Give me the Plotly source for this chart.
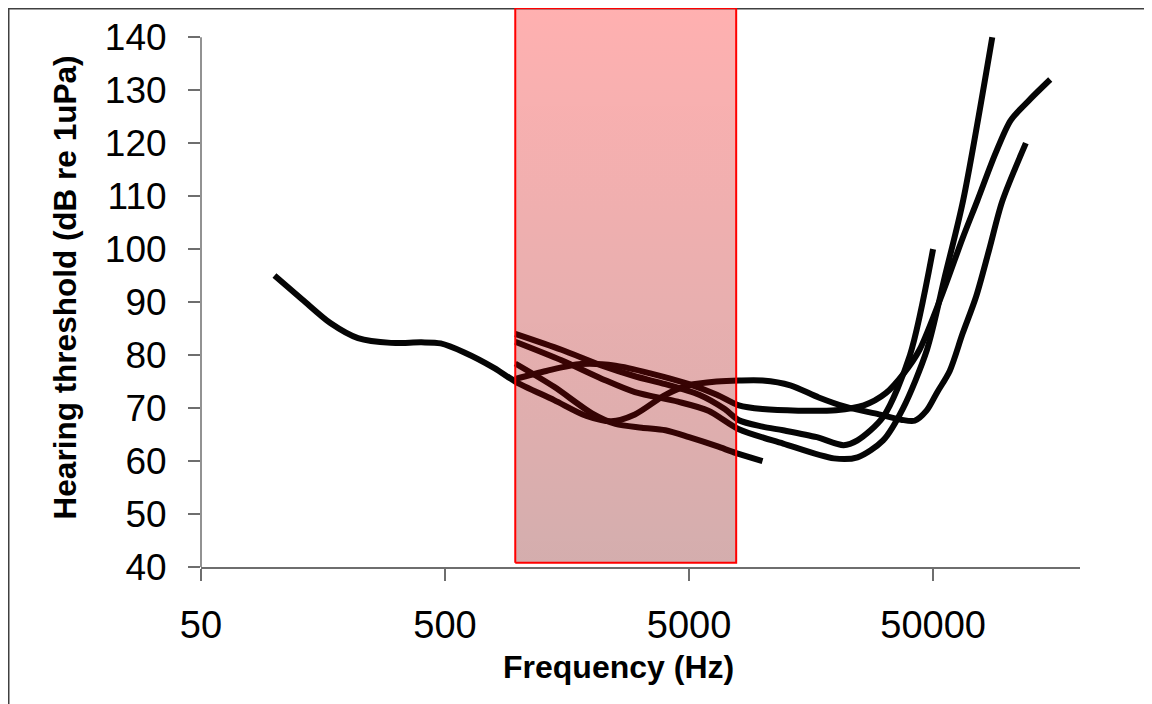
import plotly.graph_objects as go
import math

# ---- data (frequency Hz, threshold dB re 1uPa) ----
a_f = [100, 130, 170, 220, 300, 400, 480, 600, 800, 970, 1400, 1900, 2400, 3000, 4000, 5000, 6500, 8000,
       10000, 13000, 17000, 22000, 30000, 37000, 42000, 47000, 52000, 58500, 66000, 75000, 85000, 96000, 120000]
a_db = [95, 90.5, 86, 83.2, 82.3, 82.4, 82.2, 80.5, 77.5, 75, 71.5, 68.5, 67.5, 68.8, 72.5, 74.3, 75, 75.2,
        75.2, 74.3, 72, 70.2, 68.8, 67.8, 67.6, 69.5, 73, 77, 84, 91, 100, 109, 120]

b_f = [970, 1300, 1800, 2500, 3500, 5000, 6500, 8000, 10000, 14000, 20000, 26000, 32000, 38000, 44000,
       55000, 66000, 76000, 90000, 104000, 125000, 151000]
b_db = [75.5, 77, 78.3, 78, 76.5, 74.5, 72.5, 70.5, 69.8, 69.5, 69.6, 70.5, 72.8, 76.6, 81,
        92, 102, 109.2, 118, 124.3, 128.3, 132]

c_f = [970, 1500, 2200, 3000, 4000, 5500, 7000, 8000, 10000, 12150, 16700, 21500, 24500, 31200, 40200, 50000]
c_db = [84, 81, 78, 76, 74.5, 72.5, 69.8, 67.7, 66.5, 65.8, 64.5, 63, 63.9, 68.3, 80, 100]

d_f = [970, 1500, 2200, 3000, 4500, 6000, 8000, 12150, 19600, 24500, 31200, 37700, 47200, 56000, 66400, 87400]
d_db = [82.5, 79, 75.5, 73, 71.2, 69.5, 66, 63.3, 60.5, 60.7, 63.9, 70, 81, 95, 109.2, 140]

e_f = [970, 1400, 2000, 2500, 3200, 4000, 5000, 6500, 7800, 10000]
e_db = [78.4, 74, 69, 67, 66.3, 65.8, 64.5, 62.8, 61.5, 60]

curves = [(a_f, a_db), (b_f, b_db), (c_f, c_db), (d_f, d_db), (e_f, e_db)]

band_f = [970, 7800]          # highlighted band (Hz)
band_db = [40.8, 145.5]       # band vertical extent (dB)

x_ticks = [50, 500, 5000, 50000]
y_ticks = [40, 50, 60, 70, 80, 90, 100, 110, 120, 130, 140]

FONT = "Liberation Sans, Arial, sans-serif"
AX = "#6e6e6e"

fig = go.Figure()
for f, db in curves:
    fig.add_trace(go.Scatter(x=f, y=db, mode="lines",
                             line=dict(color="#050505", width=6, shape="spline", smoothing=0.8),
                             hoverinfo="skip", showlegend=False))

# translucent gradient band drawn over the curves
fig.add_trace(go.Scatter(
    x=[band_f[0], band_f[1], band_f[1], band_f[0], band_f[0]],
    y=[band_db[0], band_db[0], band_db[1], band_db[1], band_db[0]],
    mode="lines", fill="toself",
    line=dict(color="#ff0000", width=2),
    fillgradient=dict(type="vertical", start=band_db[0], stop=band_db[1],
                      colorscale=[[0, "rgba(120,0,0,0.32)"], [1, "rgba(255,0,0,0.31)"]]),
    hoverinfo="skip", showlegend=False))

L, R, T, B = 193, 80, 0, 145
W, H = 1152, 704
pw = W - L - R
ph = H - T - B

fig.update_layout(
    width=W, height=H,
    margin=dict(l=L, r=R, t=T, b=B, autoexpand=False),
    paper_bgcolor="white", plot_bgcolor="white",
    font=dict(family=FONT, color="black"),
    xaxis=dict(type="log", range=[math.log10(50), math.log10(200000)],
               tickvals=x_ticks, ticktext=[str(v) for v in x_ticks],
               tickfont=dict(size=38), ticks="outside", ticklen=12, tickcolor=AX, tickwidth=1.5,
               showline=True, linecolor=AX, linewidth=1.5, showgrid=False, zeroline=False,
               ticklabelstandoff=12),
    yaxis=dict(range=[40, 145.5], tickvals=y_ticks, ticktext=[str(v) for v in y_ticks],
               tickfont=dict(size=37), ticks="outside", ticklen=12, tickcolor=AX, tickwidth=1.5,
               showline=False, showgrid=False, zeroline=False, ticklabelstandoff=14,
               title=dict(text="Hearing threshold (dB re 1uPa)", font=dict(size=31.5, weight="bold"),
                          standoff=18)),
    annotations=[
        dict(text="Frequency (Hz)", xref="paper", yref="paper",
             x=(610 - L) / pw, y=(ph - 659) / ph, xanchor="center", yanchor="middle",
             showarrow=False, font=dict(size=32, weight="bold", color="black")),
    ],
    shapes=[
        # y axis line (40..140 only)
        dict(type="line", xref="paper", yref="y", x0=0, x1=0, y0=40, y1=140,
             line=dict(color=AX, width=1.5), layer="above"),
        # outer chart border
        dict(type="rect", xref="paper", yref="paper",
             x0=(0.75 - L) / pw, x1=(W - 0.75 - L) / pw,
             y0=(0.75 - B) / ph, y1=(ph + T - 0.75) / ph,
             line=dict(color="#404040", width=1.5), fillcolor="rgba(0,0,0,0)", layer="below"),
    ],
)

fig.write_html("out.html")
